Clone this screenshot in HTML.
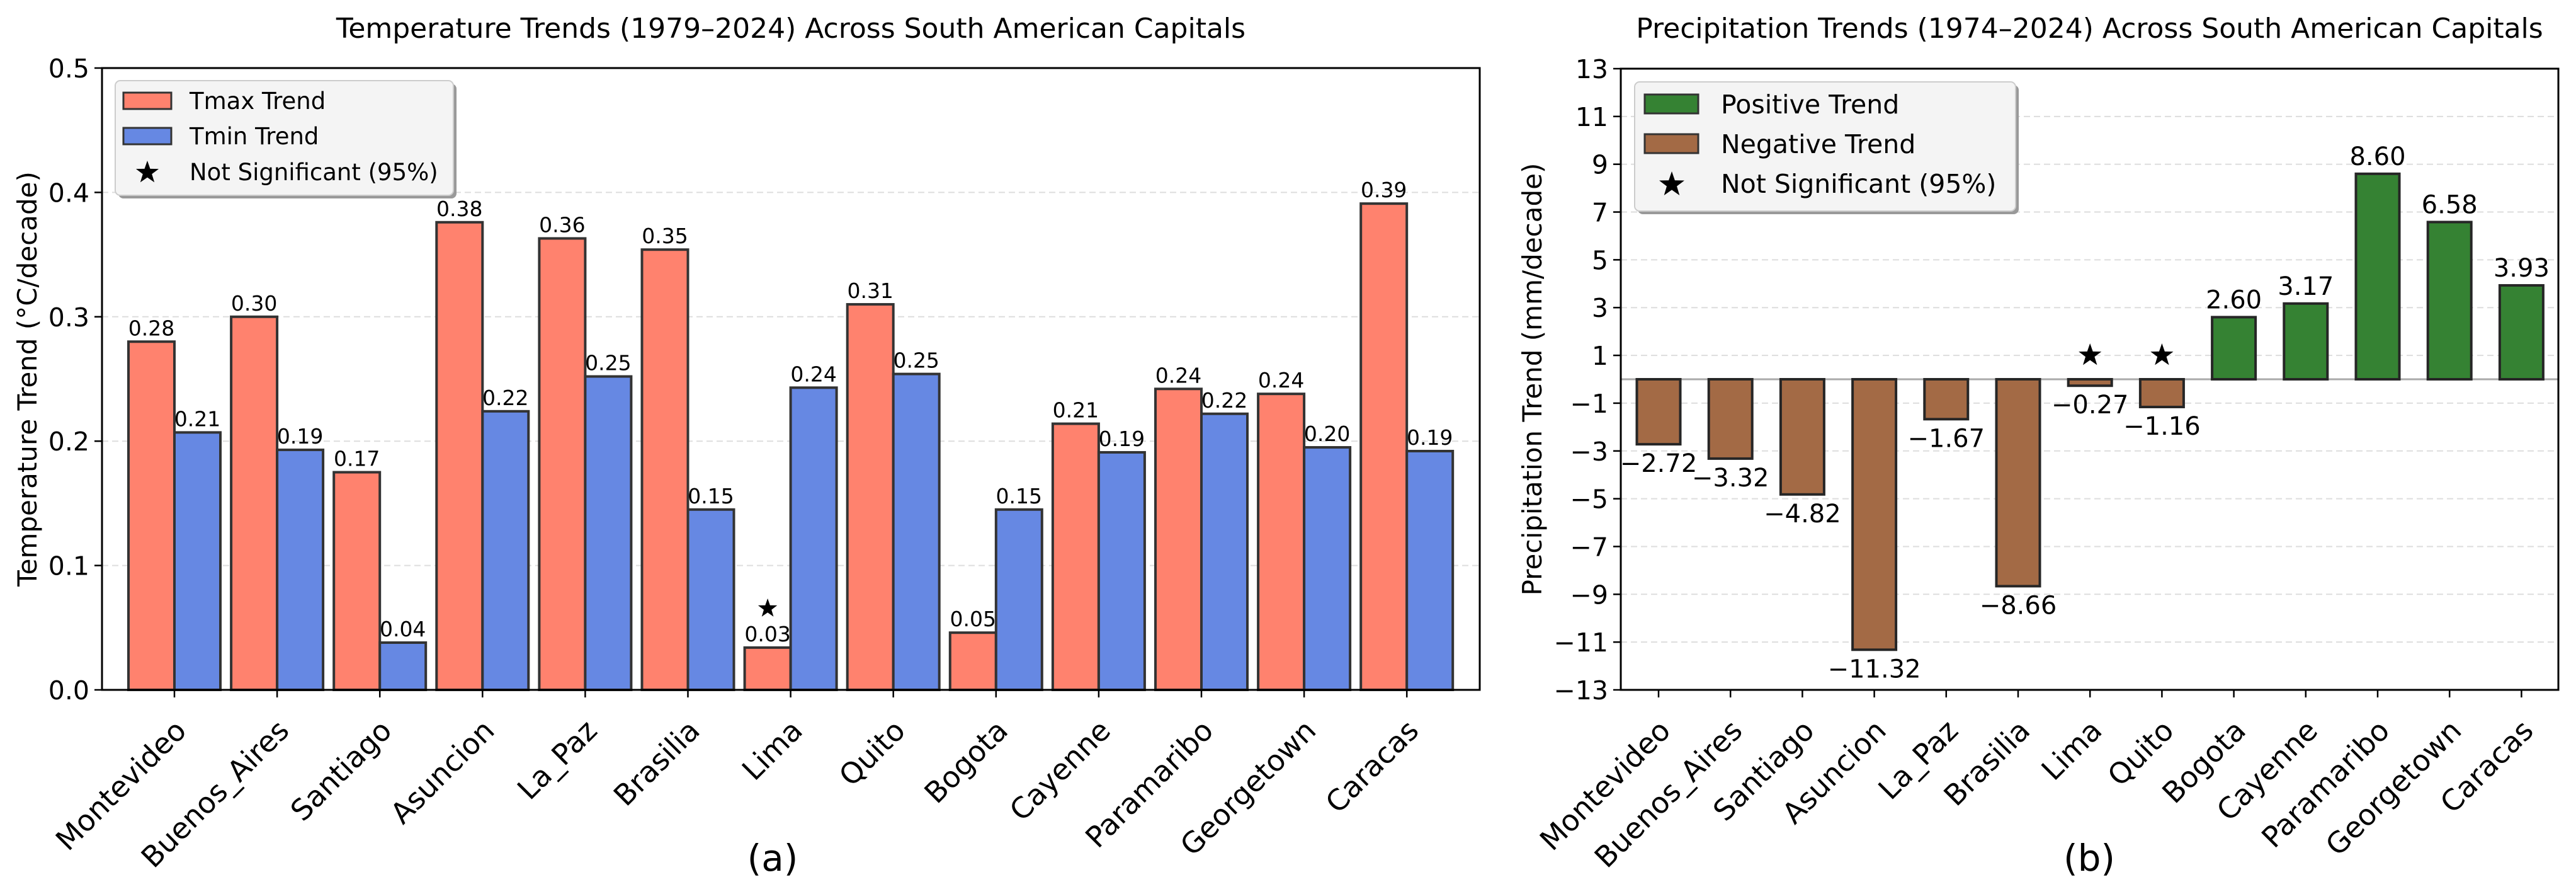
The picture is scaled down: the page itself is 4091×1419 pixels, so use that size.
<!DOCTYPE html>
<html><head><meta charset="utf-8">
<style>
html,body{margin:0;padding:0;background:#fff;}
svg{display:block;font-family:"DejaVu Sans","Liberation Sans",sans-serif;}
</style></head>
<body>
<svg id="fig" width="4091" height="1419" viewBox="0 0 4091 1419" xmlns="http://www.w3.org/2000/svg">
<rect x="0" y="0" width="4091" height="1419" fill="#fff"/>
<g id="chartA"></g>
<g id="chartB"></g>
</svg>
<script>
const cities = ["Montevideo","Buenos_Aires","Santiago","Asuncion","La_Paz","Brasilia","Lima","Quito","Bogota","Cayenne","Paramaribo","Georgetown","Caracas"];
const tmaxValues = [0.280,0.300,0.175,0.376,0.363,0.354,0.034,0.310,0.046,0.214,0.242,0.238,0.391];
const tminValues = [0.207,0.193,0.038,0.224,0.252,0.145,0.243,0.254,0.145,0.191,0.222,0.195,0.192];
const tmaxLabels = ["0.28","0.30","0.17","0.38","0.36","0.35","0.03","0.31","0.05","0.21","0.24","0.24","0.39"];
const tminLabels = ["0.21","0.19","0.04","0.22","0.25","0.15","0.24","0.25","0.15","0.19","0.22","0.20","0.19"];
const tmaxNotSig = [false,false,false,false,false,false,true,false,false,false,false,false,false];
const tempTicks = [0.0,0.1,0.2,0.3,0.4,0.5];
const tempTickLabels = ["0.0","0.1","0.2","0.3","0.4","0.5"];
const precipValues = [-2.72,-3.32,-4.82,-11.32,-1.67,-8.66,-0.27,-1.16,2.60,3.17,8.60,6.58,3.93];
const precipLabels = ["\u22122.72","\u22123.32","\u22124.82","\u221211.32","\u22121.67","\u22128.66","\u22120.27","\u22121.16","2.60","3.17","8.60","6.58","3.93"];
const precipNotSig = [false,false,false,false,false,false,true,true,false,false,false,false,false];
const precipTicks = [-13,-11,-9,-7,-5,-3,-1,1,3,5,7,9,11,13];
const precipTickLabels = ["\u221213","\u221211","\u22129","\u22127","\u22125","\u22123","\u22121","1","3","5","7","9","11","13"];

const NS="http://www.w3.org/2000/svg";
function mk(parent,tag,attrs,text){const e=document.createElementNS(NS,tag);for(const k in attrs)e.setAttribute(k,attrs[k]);if(text!==undefined)e.textContent=text;parent.appendChild(e);return e;}
function starPath(cx,cy,r){let d="";for(let i=0;i<10;i++){const a=-Math.PI/2+i*Math.PI/5;const rr=i%2?r*0.4:r;d+=(i?"L":"M")+(cx+rr*Math.cos(a)).toFixed(1)+","+(cy+rr*Math.sin(a)).toFixed(1);}return d+"Z";}

/* ---------- Chart A ---------- */
(function(){
const g=document.getElementById('chartA');
const L=162,R=2350,T=108,B=1095;
const y=v=>B-(v-0)/(0.5-0)*(B-T);
const x0=277,step=163.1,bw=73;
const xc=i=>x0+i*step;
const tt=mk(g,'text',{x:(L+R)/2,y:60,'text-anchor':'middle','font-size':44},"Temperature Trends (1979\u20132024) Across South American Capitals");

tempTicks.forEach((t,i)=>{
  if(i>0&&i<tempTicks.length-1){const gl=mk(g,'line',{x1:L,x2:R,y1:y(t),y2:y(t),stroke:'#ddd','stroke-width':2,'stroke-dasharray':'10,6'});}
  mk(g,'line',{x1:L-12,x2:L,y1:y(t),y2:y(t),stroke:'#000','stroke-width':2.5});
  const tl=mk(g,'text',{x:L-20,y:y(t)+15,'text-anchor':'end','font-size':41},tempTickLabels[i]);
  
});
cities.forEach((c,i)=>{
  const b1=mk(g,'rect',{x:xc(i)-bw,y:y(tmaxValues[i]),width:bw,height:y(0)-y(tmaxValues[i]),fill:'#ff826e',stroke:'#333','stroke-width':4});
  
  const b2=mk(g,'rect',{x:xc(i),y:y(tminValues[i]),width:bw,height:y(0)-y(tminValues[i]),fill:'#6688e3',stroke:'#333','stroke-width':4});
  
  const v1=mk(g,'text',{x:xc(i)-bw/2,y:y(tmaxValues[i])-10,'text-anchor':'middle','font-size':33},tmaxLabels[i]);
  
  const v2=mk(g,'text',{x:xc(i)+bw/2,y:y(tminValues[i])-10,'text-anchor':'middle','font-size':33},tminLabels[i]);
  
  if(tmaxNotSig[i]){const s=mk(g,'path',{d:starPath(xc(i)-bw/2,y(tmaxValues[i])-62,16),fill:'#000'});}
  mk(g,'line',{x1:xc(i),x2:xc(i),y1:B,y2:B+12,stroke:'#000','stroke-width':2.5});
  const lab=mk(g,'text',{transform:`translate(${xc(i)-2},${B+44}) rotate(-45)`,'text-anchor':'end','font-size':46,dy:'0.72em'},c);
  
});
const fr=mk(g,'rect',{x:L,y:T,width:R-L,height:B-T,fill:'none',stroke:'#000','stroke-width':3});

const yl=mk(g,'text',{transform:`translate(58,${(T+B)/2}) rotate(-90)`,'text-anchor':'middle','font-size':42},"Temperature Trend (\u00b0C/decade)");

const xl=mk(g,'text',{x:1227,y:1382,'text-anchor':'middle','font-size':58},"(a)");

const lg=mk(g,'g',{});
mk(lg,'rect',{x:188,y:133,width:537,height:182,rx:8,fill:'#999'});
mk(lg,'rect',{x:183,y:128,width:537,height:182,rx:8,fill:'#f4f4f4',stroke:'#ccc','stroke-width':2});
mk(lg,'rect',{x:196,y:147,width:76,height:26,fill:'#ff826e',stroke:'#333','stroke-width':3});
mk(lg,'rect',{x:196,y:203,width:76,height:26,fill:'#6688e3',stroke:'#333','stroke-width':3});
mk(lg,'path',{d:starPath(234,274,19),fill:'#000'});
const e1=mk(lg,'text',{x:301,y:173,'font-size':37},"Tmax Trend");
const e2=mk(lg,'text',{x:301,y:229,'font-size':37},"Tmin Trend");
const e3=mk(lg,'text',{x:301,y:286,'font-size':37},"Not Significant (95%)");
})();

/* ---------- Chart B ---------- */
(function(){
const g=document.getElementById('chartB');
const L=2574,R=4063,T=109,B=1095;
const y=v=>B-(v-(-13))/(13-(-13))*(B-T);
const x0=2634,step=114.2,bw=69;
const xc=i=>x0+i*step;
const tt=mk(g,'text',{x:(L+R)/2,y:60,'text-anchor':'middle','font-size':44},"Precipitation Trends (1974\u20132024) Across South American Capitals");

precipTicks.forEach((t,i)=>{
  if(i>0&&i<precipTicks.length-1){const gl=mk(g,'line',{x1:L,x2:R,y1:y(t),y2:y(t),stroke:'#ddd','stroke-width':2,'stroke-dasharray':'10,6'});}
  mk(g,'line',{x1:L-12,x2:L,y1:y(t),y2:y(t),stroke:'#000','stroke-width':2.5});
  const tl=mk(g,'text',{x:L-20,y:y(t)+15,'text-anchor':'end','font-size':41},precipTickLabels[i]);
  
});
const zl=mk(g,'line',{x1:L,x2:R,y1:y(0),y2:y(0),stroke:'#aaa','stroke-width':3});

cities.forEach((c,i)=>{
  const v=precipValues[i];
  const top=Math.min(y(v),y(0)),h=Math.abs(y(v)-y(0));
  const b=mk(g,'rect',{x:xc(i)-bw/2,y:top,width:bw,height:h,fill:v>=0?'#358233':'#a36a45',stroke:'#262626','stroke-width':4});
  
  const ly=v>=0?y(v)-14:y(v)+44;
  const vl=mk(g,'text',{x:xc(i),y:ly,'text-anchor':'middle','font-size':40},precipLabels[i]);
  
  if(precipNotSig[i]){const s=mk(g,'path',{d:starPath(xc(i),y(0)-38,19),fill:'#000'});}
  mk(g,'line',{x1:xc(i),x2:xc(i),y1:B,y2:B+12,stroke:'#000','stroke-width':2.5});
  const lab=mk(g,'text',{transform:`translate(${xc(i)-2},${B+44}) rotate(-45)`,'text-anchor':'end','font-size':46,dy:'0.72em'},c);
  
});
const fr=mk(g,'rect',{x:L,y:T,width:R-L,height:B-T,fill:'none',stroke:'#000','stroke-width':3});

const yl=mk(g,'text',{transform:`translate(2448,${(T+B)/2}) rotate(-90)`,'text-anchor':'middle','font-size':42},"Precipitation Trend (mm/decade)");

const xl=mk(g,'text',{x:3318,y:1382,'text-anchor':'middle','font-size':58},"(b)");

const lg=mk(g,'g',{});
mk(lg,'rect',{x:2601,y:135,width:605,height:205,rx:8,fill:'#999'});
mk(lg,'rect',{x:2596,y:130,width:605,height:205,rx:8,fill:'#f4f4f4',stroke:'#ccc','stroke-width':2});
mk(lg,'rect',{x:2612,y:150,width:85,height:30,fill:'#358233',stroke:'#333','stroke-width':3});
mk(lg,'rect',{x:2612,y:213,width:85,height:30,fill:'#a36a45',stroke:'#333','stroke-width':3});
mk(lg,'path',{d:starPath(2655,293,21),fill:'#000'});
const e1=mk(lg,'text',{x:2733,y:180,'font-size':41},"Positive Trend");
const e2=mk(lg,'text',{x:2733,y:243,'font-size':41},"Negative Trend");
const e3=mk(lg,'text',{x:2733,y:306,'font-size':41},"Not Significant (95%)");
})();
</script>
</body></html>
